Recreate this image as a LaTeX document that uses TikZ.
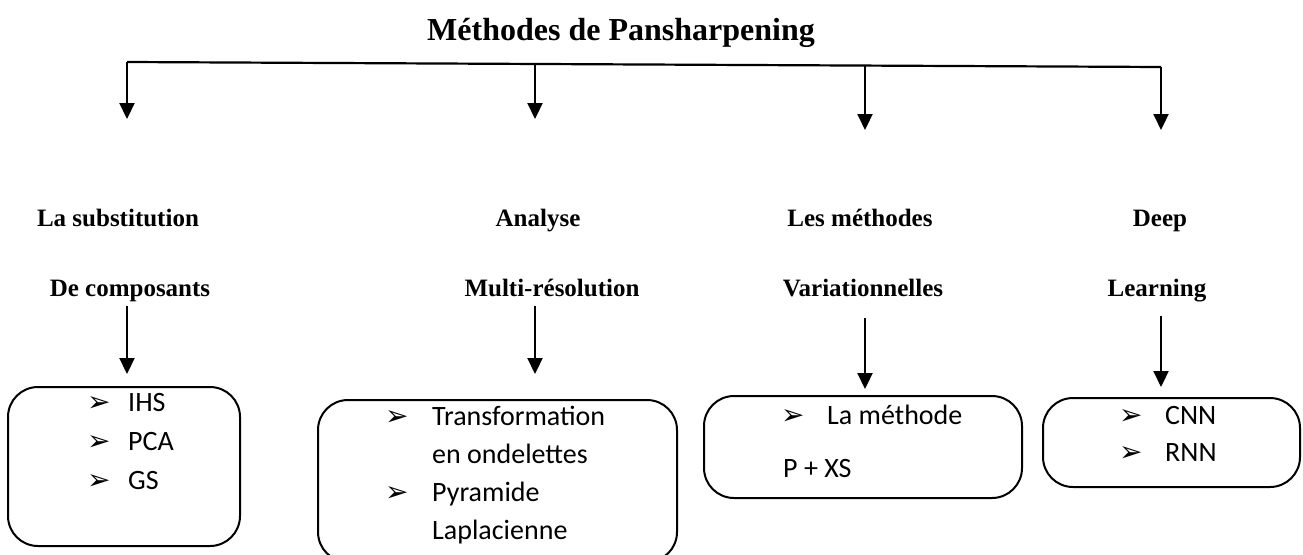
\documentclass[tikz,border=0pt]{standalone}
\usepackage{fontspec}
\setmainfont{Liberation Serif}
\newfontfamily\boxfont{Carlito}
\newfontfamily\symfont{DejaVu Sans}
\usetikzlibrary{arrows.meta}

\tikzset{
  headline/.style={font=\fontsize{32}{38}\selectfont\bfseries, inner sep=0pt, anchor=base},
  catlabel/.style={font=\fontsize{25}{30}\selectfont\bfseries, inner sep=0pt, anchor=base},
  trunk/.style={line width=2.2pt},
  branch/.style={line width=2.2pt, -{Triangle[width=15pt,length=16pt]}},
  methodbox/.style={draw, line width=2pt, rounded corners=30pt},
  item/.style={font=\boxfont\fontsize{28}{34}\selectfont, inner sep=0pt, anchor=base west},
  bul/.style={font=\symfont\fontsize{28}{34}\selectfont, inner sep=0pt, anchor=base west},
}

\begin{document}
\begin{tikzpicture}[x=1pt,y=-1pt]
\useasboundingbox (0,0) rectangle (1303,554);

% title
\node[headline] (title) at (621,40) {Méthodes de Pansharpening};

% trunk line and its four branches
\coordinate (b1) at (127,62);
\coordinate (b2) at (535,63.5);
\coordinate (b3) at (865,65.5);
\coordinate (b4) at (1161,67);
\coordinate (t1) at (127,119);
\coordinate (t2) at (535,119);
\coordinate (t3) at (865,130);
\coordinate (t4) at (1161,130);
\draw[trunk] (b1) -- (b4);
\draw[branch] (b1) -- (t1);
\draw[branch] (b2) -- (t2);
\draw[branch] (b3) -- (t3);
\draw[branch] (b4) -- (t4);

% category labels
\node[catlabel] (c1a) at (118,226) {La substitution};
\node[catlabel] (c1b) at (130,296) {De composants};
\node[catlabel] (c2a) at (538,226) {Analyse};
\node[catlabel] (c2b) at (552,296) {Multi-résolution};
\node[catlabel] (c3a) at (860,226) {Les méthodes};
\node[catlabel] (c3b) at (863,296) {Variationnelles};
\node[catlabel] (c4a) at (1160,226) {Deep};
\node[catlabel] (c4b) at (1157,296) {Learning};

% method boxes
\draw[methodbox] (8,387) rectangle (240,546) node[pos=0.5] (m1) {};
\draw[methodbox] (318,400) rectangle (677,562) node[pos=0.5] (m2) {};
\draw[methodbox] (704,396) rectangle (1022,498) node[pos=0.5] (m3) {};
\draw[methodbox] (1043,398) rectangle (1300,487) node[pos=0.5] (m4) {};

% arrows from labels to boxes
\coordinate (s1) at (127,306);
\coordinate (s2) at (535,306);
\coordinate (s3) at (865,318);
\coordinate (s4) at (1161,316);
\coordinate (e1) at (127,374);
\coordinate (e2) at (535,374);
\coordinate (e3) at (865,389);
\coordinate (e4) at (1161,387);
\draw[branch] (s1) -- (e1);
\draw[branch] (s2) -- (e2);
\draw[branch] (s3) -- (e3);
\draw[branch] (s4) -- (e4);

% box contents
\node[bul] (k1) at (87,411) {➢};
\node[item] (i1) at (128,411) {IHS};
\node[bul] (k2) at (87,450) {➢};
\node[item] (i2) at (128,450) {PCA};
\node[bul] (k3) at (87,489) {➢};
\node[item] (i3) at (128,489) {GS};

\node[bul] (k4) at (385,425) {➢};
\node[item] (i4) at (432,425) {Transformation};
\node[item] (i5) at (432,463) {en ondelettes};
\node[bul] (k5) at (385,501) {➢};
\node[item] (i6) at (432,501) {Pyramide};
\node[item] (i7) at (432,539) {Laplacienne};

\node[bul] (k6) at (781,424) {➢};
\node[item] (i8) at (827,424) {La méthode};
\node[item] (i9) at (783,477) {P + XS};

\node[bul] (k7) at (1119,424) {➢};
\node[item] (i10) at (1165,424) {CNN};
\node[bul] (k8) at (1119,461) {➢};
\node[item] (i11) at (1165,461) {RNN};
\end{tikzpicture}
\end{document}
